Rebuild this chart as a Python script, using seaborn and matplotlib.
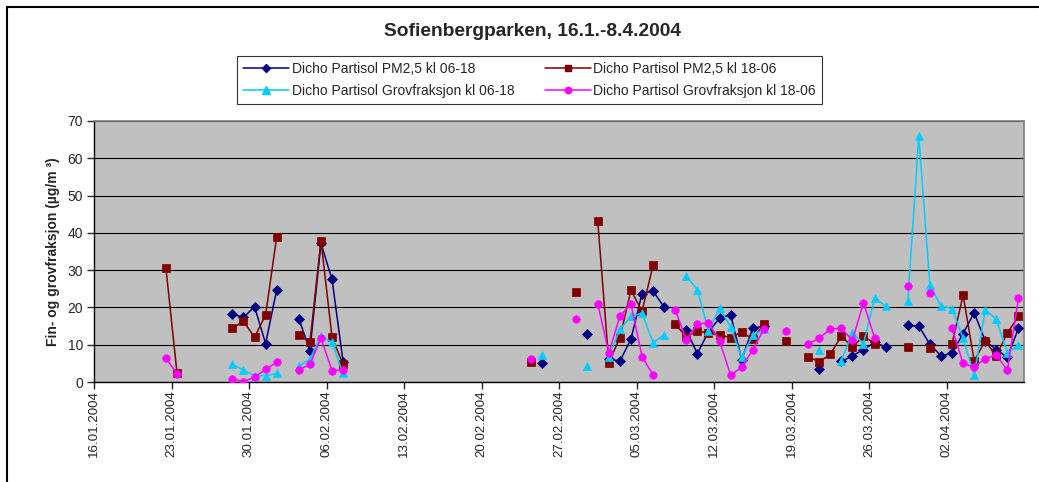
import numpy as np
import pandas as pd
import matplotlib
matplotlib.use("Agg")
import matplotlib.pyplot as plt
from matplotlib.lines import Line2D
import seaborn as sns

# Sofienbergparken 16.1.-8.4.2004, verdier lest av figuren (µg/m3)
n = np.nan
datoer = ['22.01', '23.01', '28.01', '29.01', '30.01', '31.01', '01.02', '03.02', '04.02', '05.02',
          '06.02', '07.02', '24.02', '25.02', '28.02', '29.02', '01.03', '02.03', '03.03', '04.03',
          '05.03', '06.03', '07.03', '08.03', '09.03', '10.03', '11.03', '12.03', '13.03', '14.03',
          '15.03', '16.03', '18.03', '20.03', '21.03', '22.03', '23.03', '24.03', '25.03', '26.03',
          '27.03', '29.03', '30.03', '31.03', '01.04', '02.04', '03.04', '04.04', '05.04', '06.04',
          '07.04', '08.04']

pm25_dag = [n, n, 18.2, 17.3, 20.2, 10.3, 24.7, 17.0, 8.4, 37.2,
            27.5, 5.4, n, 5.2, n, 13.0, n, 6.2, 5.6, 11.5,
            23.7, 24.4, 20.0, n, 13.9, 7.6, 13.5, 17.1, 18.1, 6.0,
            14.4, 15.0, n, n, 3.4, n, 5.5, 7.0, 8.7, 10.6,
            9.4, 15.2, 15.0, 10.1, 7.0, 7.7, 13.0, 18.6, 11.0, 8.7,
            6.6, 14.4]
pm25_natt = [30.5, 2.3, 14.4, 16.3, 12.0, 18.0, 38.9, 12.7, 10.6, 37.9,
             12.0, 4.7, 5.3, n, 24.1, n, 43.1, 5.2, 11.9, 24.6,
             19.0, 31.3, n, 15.5, 12.2, 13.7, 13.1, 12.6, 11.9, 13.4,
             11.5, 15.5, 11.0, 6.8, 5.4, 7.4, 12.3, 9.4, 12.3, 10.3,
             n, 9.4, n, 9.2, n, 10.3, 23.3, 5.7, 11.0, 7.0,
             13.2, 17.6]
grov_dag = [n, n, 4.8, 3.2, 1.7, 1.7, 2.3, 4.3, 6.1, 12.4,
            10.6, 2.3, n, 7.2, n, 4.3, n, 6.8, 14.1, 17.6,
            18.5, 10.5, 12.7, n, 28.5, 24.7, 13.8, 19.8, 14.8, 6.6,
            12.5, 14.1, n, n, 8.6, n, 5.7, 13.2, 10.3, 22.4,
            20.4, 21.7, 66.0, 25.9, 20.4, 19.7, 11.7, 1.9, 19.3, 16.8,
            7.8, 9.9]
grov_natt = [6.4, 2.2, 0.9, 0.1, 1.3, 3.4, 5.3, 3.3, 4.7, 11.8,
             3.0, 3.3, 6.3, n, 16.8, n, 21.0, 7.8, 17.6, 21.0,
             6.8, 1.9, n, 19.3, 11.3, 15.5, 15.9, 11.0, 1.9, 3.9,
             8.6, 14.2, 13.7, 10.2, 11.7, 14.2, 14.4, 11.2, 21.2, 11.9,
             n, 25.7, n, 23.9, n, 14.4, 5.0, 3.9, 6.3, 7.2,
             3.2, 22.5]

serier = [
    ('Dicho Partisol PM2,5 kl 06-18', pm25_dag, '#000080', 'D', 4.6),
    ('Dicho Partisol PM2,5 kl 18-06', pm25_natt, '#800000', 's', 5.4),
    ('Dicho Partisol Grovfraksjon kl 06-18', grov_dag, '#00CCFF', '^', 6.2),
    ('Dicho Partisol Grovfraksjon kl 18-06', grov_natt, '#FF00FF', 'o', 5.4),
]

sns.set_style("ticks")
plt.rcParams['font.family'] = ['Liberation Sans', 'DejaVu Sans']

fig = plt.figure(figsize=(10.39, 4.82), dpi=100)
ax = fig.add_axes([94 / 1039, 1 - 382 / 482, 930 / 1039, 261 / 482])
ax.set_facecolor('#C0C0C0')

# Excel plasserer punktet midt i dagen
tid = pd.to_datetime([d + '.2004' for d in datoer], format='%d.%m.%Y') + pd.Timedelta(hours=12)

handles = []
for navn, verdier, farge, markor, ms in serier:
    df = pd.DataFrame({'tid': tid, 'verdi': verdier}).dropna()
    # brudd i linja der en dag mangler
    df['seg'] = (df['tid'].diff() > pd.Timedelta(days=1)).cumsum()
    sns.lineplot(data=df, x='tid', y='verdi', units='seg', estimator=None, ax=ax,
                 color=farge, marker=markor, markersize=ms, markeredgecolor=farge,
                 markerfacecolor=farge, markeredgewidth=0.5, linewidth=1.1, zorder=3)
    handles.append(Line2D([], [], color=farge, marker=markor, markersize=ms - 0.8,
                          markeredgecolor=farge, linewidth=1.1, label=navn))

ax.set_ylim(0, 70)
ax.set_yticks(range(0, 71, 10))
ax.set_xlim(pd.Timestamp('2004-01-16'), pd.Timestamp('2004-04-09'))
xticks = pd.date_range('2004-01-16', '2004-04-02', freq='7D')
ax.set_xticks(xticks)
ax.set_xticklabels([t.strftime('%d.%m.%Y') for t in xticks], rotation=90, fontsize=9.6)
ax.tick_params(axis='y', labelsize=10, length=5, width=1, direction='out', pad=3)
ax.tick_params(axis='x', length=5, width=1, direction='out', pad=1)
ax.grid(axis='y', color='black', linewidth=0.8)
ax.grid(axis='x', visible=False)
ax.set_axisbelow(True)

ax.set_xlabel('')
ax.set_ylabel('Fin- og grovfraksjon (µg/m ³)', fontsize=10, fontweight='bold', labelpad=5)
for s in ['left', 'bottom']:
    ax.spines[s].set_color('black')
    ax.spines[s].set_linewidth(1)
for s in ['top', 'right']:
    ax.spines[s].set_visible(True)
    ax.spines[s].set_color('#808080')
    ax.spines[s].set_linewidth(1.2)

fig.text(532 / 1039, 1 - 32 / 482, 'Sofienbergparken, 16.1.-8.4.2004', ha='center', va='center',
         fontsize=13.8, fontweight='bold')

leg = fig.legend(handles=[handles[0], handles[2], handles[1], handles[3]], loc='center',
                 bbox_to_anchor=(529.5 / 1039, 1 - 80 / 482), ncol=2, fontsize=10,
                 frameon=True, fancybox=False, edgecolor='black', handlelength=3.3,
                 columnspacing=2.2, labelspacing=0.55, borderpad=0.45, handletextpad=0.2,
                 borderaxespad=0)
leg.get_frame().set_linewidth(0.8)

# ytre ramme rundt diagramområdet
fig.add_artist(Line2D([7 / 1039, 1], [1 - 7 / 482, 1 - 7 / 482], color='black', linewidth=1.5))
fig.add_artist(Line2D([7 / 1039, 7 / 1039], [0, 1 - 7 / 482], color='black', linewidth=1.5))

fig.savefig('out.png', dpi=100, facecolor='white')
